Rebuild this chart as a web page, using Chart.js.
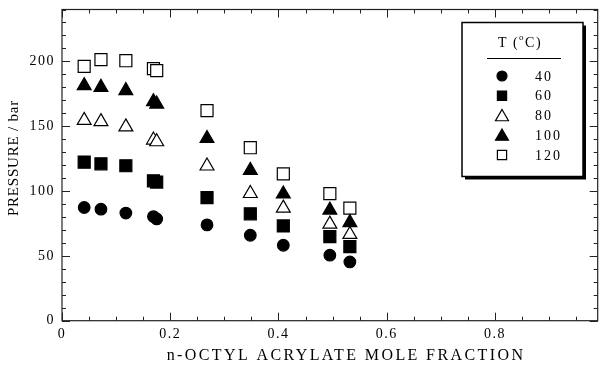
<!DOCTYPE html>
<html>
<head>
<meta charset="utf-8">
<script src="https://cdn.jsdelivr.net/npm/chart.js@4/dist/chart.umd.min.js"></script>
<style>
  html, body { margin: 0; padding: 0; background: #fff; }
  #wrap { width: 600px; height: 365px; }
</style>
</head>
<body>
<div id="wrap"><canvas id="chart"></canvas></div>
<script>
// n-octyl acrylate mole fraction (same compositions for every isotherm)
const moleFraction = [0.041, 0.072, 0.118, 0.169, 0.175, 0.268, 0.348, 0.409, 0.495, 0.532]
const temps = ['40', '60', '80', '100', '120']
const p40 = [87.3, 86, 83, 80.3, 78.5, 73.9, 65.9, 58.2, 50.5, 45.3]
const p60 = [122.3, 121, 119.5, 107.9, 106.9, 95, 82.4, 73.1, 64.9, 57.1]
const p80 = [154.5, 153.5, 149.5, 139.3, 138, 119.3, 98.1, 86.8, 74.5, 66.5]
const p100 = [181.3, 180, 177.5, 168.9, 167.1, 140.5, 115.9, 97.7, 85.3, 75.7]
const p120 = [196.1, 201.3, 200.5, 194.4, 192.8, 162, 133.4, 113.3, 98, 86.8]
const xTickLabels = ['0', '0.2', '0.4', '0.6', '0.8']
const yTickLabels = ['0', '50', '100', '150', '200']

const series = [p40, p60, p80, p100, p120]
const markers = [
  { pointStyle: 'circle', fill: '#000', radius: 5.8, legendRadius: 5 },
  { pointStyle: 'rect', fill: '#000', radius: 8.5, legendRadius: 6.5 },
  { pointStyle: 'triangle', fill: '#fff', radius: 8, legendRadius: 7.5 },
  { pointStyle: 'triangle', fill: '#000', radius: 8, legendRadius: 7.5 },
  { pointStyle: 'rect', fill: '#fff', radius: 8.5, legendRadius: 6.5 }
]

const serif = '"Liberation Serif", "Times New Roman", serif'

const near = (v, step) => Math.abs(v / step - Math.round(v / step)) < 1e-6

const datasets = series.map((vals, i) => ({
  label: temps[i],
  data: vals.map((p, j) => ({ x: moleFraction[j], y: p })),
  pointStyle: markers[i].pointStyle,
  pointRadius: markers[i].radius,
  pointHoverRadius: markers[i].radius,
  backgroundColor: markers[i].fill,
  borderColor: '#000',
  pointBorderWidth: 1.2,
  showLine: false
}))

const frame = {
  id: 'frame',
  beforeDraw (chart) {
    chart.ctx.letterSpacing = '1.5px'
  },
  beforeDatasetsDraw (chart) {
    const ctx = chart.ctx
    const { left, right, top, bottom } = chart.chartArea
    const xs = chart.scales.x
    const ys = chart.scales.y
    ctx.save()
    ctx.strokeStyle = '#222'
    ctx.lineWidth = 1.2
    ctx.strokeRect(left, top, right - left, bottom - top)
    ctx.lineWidth = 1
    ctx.beginPath()
    xs.ticks.forEach(t => {
      const px = Math.round(xs.getPixelForValue(t.value)) + 0.5
      const len = near(t.value, 0.2) ? 8 : 4
      ctx.moveTo(px, bottom); ctx.lineTo(px, bottom - len)
      ctx.moveTo(px, top); ctx.lineTo(px, top + len)
    })
    ys.ticks.forEach(t => {
      const py = Math.round(ys.getPixelForValue(t.value)) + 0.5
      const len = near(t.value, 50) ? 8 : 4
      ctx.moveTo(left, py); ctx.lineTo(left + len, py)
      ctx.moveTo(right, py); ctx.lineTo(right - len, py)
    })
    ctx.stroke()
    ctx.restore()
  },
  afterDraw (chart) {
    const ctx = chart.ctx
    ctx.save()
    ctx.fillStyle = '#000'
    // axis titles
    ctx.font = '16px ' + serif
    ctx.letterSpacing = '2.4px'
    ctx.textAlign = 'center'
    ctx.textBaseline = 'alphabetic'
    ctx.fillText('n-OCTYL ACRYLATE MOLE FRACTION', 346, 360)
    ctx.save()
    ctx.translate(18, 158)
    ctx.rotate(-Math.PI / 2)
    ctx.font = '15px ' + serif
    ctx.letterSpacing = '0.8px'
    ctx.fillText('PRESSURE / bar', 0, 0)
    ctx.restore()

    // legend box with shadow
    const bx = 462; const by = 22.5; const bw = 121; const bh = 154
    ctx.fillStyle = '#000'
    ctx.fillRect(bx + 3, by + 3, bw, bh)
    ctx.fillStyle = '#fff'
    ctx.fillRect(bx, by, bw, bh)
    ctx.strokeStyle = '#000'
    ctx.lineWidth = 1.5
    ctx.strokeRect(bx, by, bw, bh)

    // legend title T (°C)
    ctx.fillStyle = '#000'
    ctx.letterSpacing = '1.5px'
    ctx.textAlign = 'left'
    const a = 'T ('
    const b = 'C)'
    ctx.font = '14px ' + serif
    const wa = ctx.measureText(a).width
    const wb = ctx.measureText(b).width
    ctx.font = '9px ' + serif
    const wo = ctx.measureText('o').width
    let tx = 520 - (wa + wo + wb) / 2
    ctx.font = '14px ' + serif
    ctx.fillText(a, tx, 47)
    tx += wa
    ctx.font = '9px ' + serif
    ctx.fillText('o', tx, 40)
    tx += wo
    ctx.font = '14px ' + serif
    ctx.fillText(b, tx, 47)
    ctx.lineWidth = 1
    ctx.beginPath()
    ctx.moveTo(487, 58.5); ctx.lineTo(561, 58.5)
    ctx.stroke()

    // legend entries
    const rows = [76, 95.7, 115.5, 135, 155]
    chart.data.datasets.forEach((ds, i) => {
      const y = rows[i]
      ctx.fillStyle = ds.backgroundColor
      ctx.strokeStyle = '#000'
      ctx.lineWidth = 1.2
      Chart.helpers.drawPoint(ctx, {
        pointStyle: ds.pointStyle,
        rotation: 0,
        radius: markers[i].legendRadius,
        borderWidth: 1.2
      }, 502, i === 2 || i === 3 ? y + 1.5 : y)
      ctx.fillStyle = '#000'
      ctx.font = '14px ' + serif
      ctx.letterSpacing = '2px'
      ctx.textBaseline = 'middle'
      ctx.fillText(ds.label, 535, y + 1)
    })
    ctx.restore()
  }
}

new Chart(document.getElementById('chart'), {
  type: 'scatter',
  data: { datasets },
  plugins: [frame],
  options: {
    responsive: true,
    maintainAspectRatio: false,
    animation: false,
    layout: { autoPadding: false, padding: { top: 9.5, right: 2.3, left: 0, bottom: 0 } },
    plugins: {
      legend: { display: false },
      tooltip: { enabled: false }
    },
    scales: {
      x: {
        type: 'linear',
        min: 0,
        max: 0.99,
        afterFit: s => {
          s.height = 44.3
          s.paddingLeft = 0
          s.paddingRight = 0
        },
        grid: { display: false, drawTicks: true, tickLength: 5 },
        border: { display: false },
        ticks: {
          stepSize: 0.05,
          includeBounds: false,
          autoSkip: false,
          maxRotation: 0,
          padding: 0,
          color: '#000',
          font: { family: serif, size: 14 },
          callback: v => near(v, 0.2) ? xTickLabels[Math.round(v / 0.2)] : ''
        }
      },
      y: {
        min: 0,
        max: 240,
        afterFit: s => {
          s.width = 62
          s.paddingTop = 0
          s.paddingBottom = 0
        },
        grid: { display: false, drawTicks: true, tickLength: 7 },
        border: { display: false },
        ticks: {
          stepSize: 10,
          autoSkip: false,
          padding: 0,
          color: '#000',
          font: { family: serif, size: 14 },
          callback: v => near(v, 50) ? yTickLabels[Math.round(v / 50)] : ''
        }
      }
    }
  }
})
</script>
</body>
</html>
